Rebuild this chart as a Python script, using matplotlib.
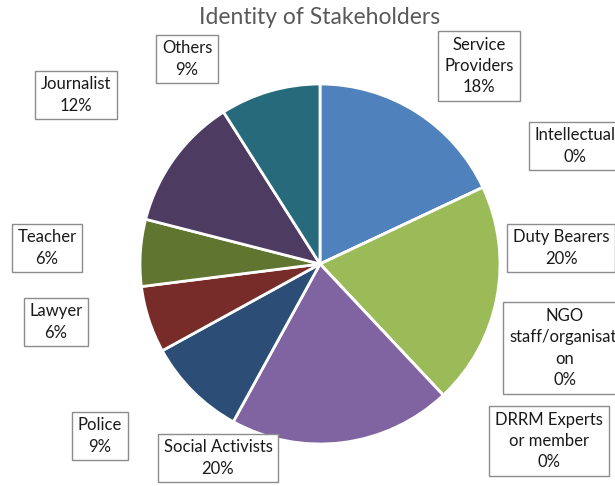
import matplotlib
matplotlib.use("Agg")
import matplotlib.pyplot as plt

# Stakeholder categories, clockwise from 12 o'clock
categories = ["Service\nProviders", "Intellectual", "Duty Bearers",
              "NGO\nstaff/organisati\non", "DRRM Experts\nor member",
              "Social Activists", "Police", "Lawyer", "Teacher",
              "Journalist", "Others"]
shares = [18, 0, 20, 0, 0, 20, 9, 6, 6, 12, 9]
colors = ["#4F81BD", "#C0504D", "#9BBB59", "#4BACC6", "#F79646",
          "#8064A2", "#2C4D75", "#772C2A", "#5F7530", "#4D3B62", "#276A7C"]

# label box centres in figure pixel units (origin bottom-left)
label_pos = [(479, 420), (575, 340), (561, 238), (565, 138), (549, 45),
             (218, 28), (100, 50), (56, 164), (47, 238), (76, 391), (187, 427)]

W, H = 615, 486
fig = plt.figure(figsize=(W / 100, H / 100), dpi=100)
ax = fig.add_axes([0, 0, 1, 1])

ax.pie(shares, colors=colors, startangle=90, counterclock=False,
       center=(320, 222), radius=180,
       wedgeprops=dict(edgecolor="white", linewidth=2))
ax.set_xlim(0, W)
ax.set_ylim(0, H)
ax.set_aspect("equal")
ax.axis("off")

font = "Lato"
for name, val, (x, y) in zip(categories, shares, label_pos):
    ax.text(x, y, f"{name}\n{val}%", ha="center", va="center",
            fontsize=12, family=font, color="#1a1a1a", linespacing=1.4,
            bbox=dict(boxstyle="square,pad=0.35", facecolor="white",
                      edgecolor="#8c8c8c", linewidth=1))

ax.text(320, 468, "Identity of Stakeholders", ha="center", va="center",
        fontsize=16.5, family=font, color="#595959")

fig.savefig("out.png", dpi=100)
